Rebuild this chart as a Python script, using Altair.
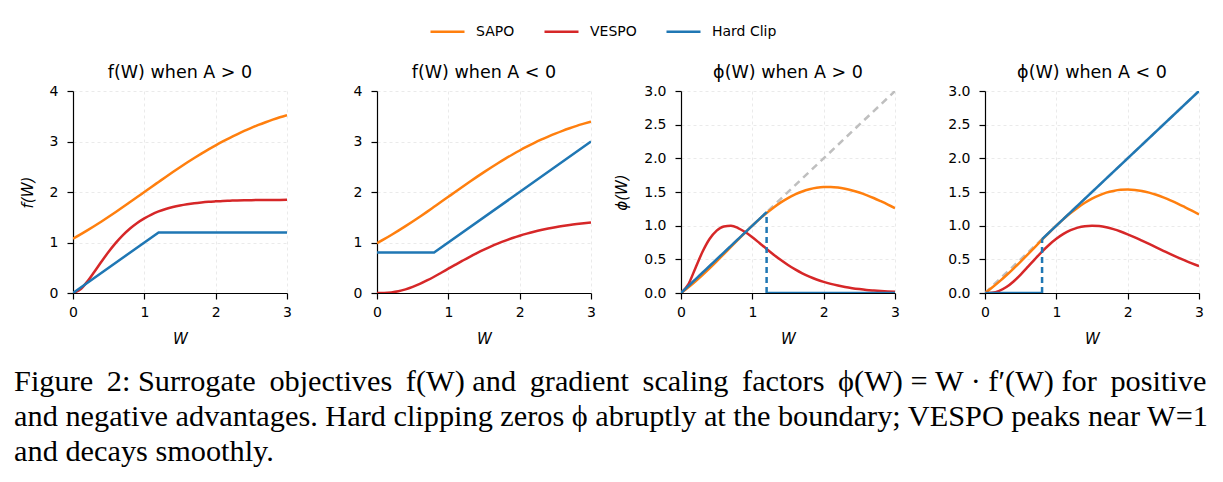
import altair as alt
import pandas as pd

# ---------------- data ----------------
W = [0.0, 0.1, 0.2, 0.3, 0.4, 0.5, 0.6, 0.7, 0.8, 0.9, 1.0,
     1.1, 1.2, 1.3, 1.4, 1.5, 1.6, 1.7, 1.8, 1.9, 2.0,
     2.1, 2.2, 2.3, 2.4, 2.5, 2.6, 2.7, 2.8, 2.9, 3.0]

sapo_f_pos = [1.076, 1.156, 1.240, 1.327, 1.417, 1.510, 1.605, 1.702, 1.801, 1.900, 2.000,
              2.100, 2.199, 2.298, 2.395, 2.490, 2.583, 2.673, 2.760, 2.844, 2.924,
              3.001, 3.074, 3.143, 3.209, 3.270, 3.328, 3.382, 3.433, 3.480, 3.523]
vespo_f_pos = [0.0, 0.068, 0.225, 0.420, 0.623, 0.817, 0.992, 1.146, 1.278, 1.388, 1.479,
               1.554, 1.615, 1.664, 1.703, 1.734, 1.759, 1.779, 1.794, 1.806, 1.815,
               1.823, 1.828, 1.833, 1.836, 1.839, 1.841, 1.842, 1.843, 1.844, 1.845]

sapo_f_neg = [0.988, 1.066, 1.149, 1.235, 1.324, 1.416, 1.511, 1.607, 1.706, 1.805, 1.905,
              2.005, 2.104, 2.202, 2.299, 2.394, 2.486, 2.575, 2.661, 2.743, 2.822,
              2.897, 2.968, 3.035, 3.097, 3.156, 3.211, 3.262, 3.310, 3.353, 3.394]
vespo_f_neg = [0.0, 0.002, 0.012, 0.034, 0.071, 0.120, 0.179, 0.248, 0.322, 0.401, 0.481,
               0.561, 0.640, 0.717, 0.789, 0.858, 0.923, 0.982, 1.037, 1.088, 1.134,
               1.175, 1.212, 1.246, 1.276, 1.302, 1.326, 1.347, 1.365, 1.381, 1.396]

sapo_phi_pos = [0.0, 0.082, 0.171, 0.266, 0.366, 0.470, 0.577, 0.685, 0.792, 0.898, 1.000,
                1.097, 1.188, 1.271, 1.346, 1.410, 1.464, 1.508, 1.540, 1.562, 1.573,
                1.574, 1.566, 1.548, 1.523, 1.492, 1.454, 1.411, 1.363, 1.313, 1.260]
vespo_phi_pos = [0.0, 0.123, 0.365, 0.608, 0.801, 0.927, 0.989, 0.998, 0.965, 0.905, 0.828,
                 0.742, 0.654, 0.569, 0.489, 0.416, 0.350, 0.293, 0.243, 0.201, 0.165,
                 0.135, 0.110, 0.089, 0.072, 0.058, 0.046, 0.037, 0.029, 0.023, 0.019]

sapo_phi_neg = [0.0, 0.081, 0.169, 0.263, 0.363, 0.467, 0.574, 0.683, 0.791, 0.898, 1.000,
                1.097, 1.187, 1.268, 1.340, 1.401, 1.451, 1.490, 1.516, 1.532, 1.536,
                1.530, 1.515, 1.491, 1.459, 1.421, 1.377, 1.329, 1.277, 1.223, 1.166]
vespo_phi_neg = [0.0, 0.005, 0.032, 0.088, 0.171, 0.274, 0.387, 0.503, 0.615, 0.717, 0.805,
                 0.878, 0.933, 0.971, 0.993, 1.000, 0.994, 0.976, 0.948, 0.913, 0.872,
                 0.827, 0.778, 0.728, 0.677, 0.627, 0.577, 0.529, 0.483, 0.439, 0.398]

# hard clip breakpoints
clip_f_pos_w = [0.0, 1.2, 3.0]
clip_f_pos_v = [0.0, 1.2, 1.2]
clip_f_neg_w = [0.0, 0.8, 3.0]
clip_f_neg_v = [0.8, 0.8, 3.0]
clip_phi_pos_w = [0.0, 1.2, None, 1.2, 3.0]
clip_phi_pos_v = [0.0, 1.2, None, 0.0, 0.0]
clip_phi_neg_w = [0.0, 0.8, None, 0.8, 3.0]
clip_phi_neg_v = [0.0, 0.0, None, 0.8, 3.0]
drop_pos_w = [1.2, 1.2]
drop_pos_v = [0.0, 1.2]
drop_neg_w = [0.8, 0.8]
drop_neg_v = [0.0, 0.8]
identity_w = [0.0, 3.0]
identity_v = [0.0, 3.0]

series_names = ["SAPO", "VESPO", "Hard Clip"]
series_colors = ["#ff7f0e", "#d62728", "#1f77b4"]

panel_titles = ["f(W) when A > 0", "f(W) when A < 0", "ϕ(W) when A > 0", "ϕ(W) when A < 0"]
y_titles = ["f(W)", None, "ϕ(W)", None]
f_ticks = [0, 1, 2, 3, 4]
phi_ticks = [0.0, 0.5, 1.0, 1.5, 2.0, 2.5, 3.0]
x_ticks = [0, 1, 2, 3]

# line 1 carries a few thin spaces to imitate the justified caption
caption_lines = [
    "Figure \u20092: Surrogate \u2009objectives \u2009f(W) and \u2009gradient \u2009scaling \u2009factors \u2009ϕ(W) = W · f′(W) for \u2009positive",
    "and negative advantages. Hard clipping zeros ϕ abruptly at the boundary; VESPO peaks near W=1",
    "and decays smoothly.",
]

# ---------------- helpers ----------------
FONT = "DejaVu Sans"
PW, PH = 214, 202


def frame(ws, vs, name):
    rows = []
    seg = 0
    for i, (w, v) in enumerate(zip(ws, vs)):
        if w is None:
            seg += 1
            continue
        rows.append({"W": w, "v": v, "series": name, "seg": seg, "i": i})
    return pd.DataFrame(rows)


color_enc = alt.Color(
    "series:N",
    scale=alt.Scale(domain=series_names, range=series_colors),
    legend=alt.Legend(
        title=None, orient="none", direction="horizontal",
        legendX=356, legendY=-78,
        symbolType="stroke", symbolSize=1156, symbolStrokeWidth=2.5,
        labelFont=FONT, labelFontSize=14, labelColor="black",
        labelOffset=10, columnPadding=24,
    ),
)


def panel(idx, ydomain, yticks, yfmt, layers):
    xenc = alt.X("W:Q", scale=alt.Scale(domain=[0, 3], nice=False),
                 axis=alt.Axis(values=x_ticks, format="d", title="W",
                               titleFontStyle="italic", titlePadding=12))
    yenc = alt.Y("v:Q", scale=alt.Scale(domain=ydomain, nice=False),
                 axis=alt.Axis(values=yticks, format=yfmt, title=y_titles[idx],
                               titleFontStyle="italic", titlePadding=14))
    charts = []
    for df, kind in layers:
        base = alt.Chart(df)
        if kind == "series":
            m = base.mark_line(clip=True, strokeWidth=2.5, interpolate="monotone").encode(
                x=xenc, y=yenc, color=color_enc, detail="seg:N", order="i:Q")
        elif kind == "clip":
            m = base.mark_line(clip=True, strokeWidth=2.5).encode(
                x=xenc, y=yenc, color=color_enc, detail="seg:N", order="i:Q")
        elif kind == "drop":
            m = base.mark_line(clip=True, strokeWidth=2.5, strokeDash=[6, 4]).encode(
                x=xenc, y=yenc, color=alt.value("#1f77b4"), order="i:Q")
        else:  # identity
            m = base.mark_line(clip=True, strokeWidth=2.5, strokeDash=[7, 5]).encode(
                x=xenc, y=yenc, color=alt.value("#bfbfbf"), order="i:Q")
        charts.append(m)
    return alt.layer(*charts).properties(
        width=PW, height=PH,
        title=alt.TitleParams(panel_titles[idx], font=FONT, fontSize=17.5,
                              fontWeight="normal", color="black", offset=3),
    )


p1 = panel(0, [0, 4], f_ticks, "d", [
    (frame(W, sapo_f_pos, "SAPO"), "series"),
    (frame(W, vespo_f_pos, "VESPO"), "series"),
    (frame(clip_f_pos_w, clip_f_pos_v, "Hard Clip"), "clip"),
])
p2 = panel(1, [0, 4], f_ticks, "d", [
    (frame(W, sapo_f_neg, "SAPO"), "series"),
    (frame(W, vespo_f_neg, "VESPO"), "series"),
    (frame(clip_f_neg_w, clip_f_neg_v, "Hard Clip"), "clip"),
])
p3 = panel(2, [0, 3], phi_ticks, ".1f", [
    (frame(identity_w, identity_v, "ref"), "identity"),
    (frame(W, sapo_phi_pos, "SAPO"), "series"),
    (frame(W, vespo_phi_pos, "VESPO"), "series"),
    (frame(clip_phi_pos_w, clip_phi_pos_v, "Hard Clip"), "clip"),
    (frame(drop_pos_w, drop_pos_v, "Hard Clip"), "drop"),
])
p4 = panel(3, [0, 3], phi_ticks, ".1f", [
    (frame(identity_w, identity_v, "ref"), "identity"),
    (frame(W, sapo_phi_neg, "SAPO"), "series"),
    (frame(W, vespo_phi_neg, "VESPO"), "series"),
    (frame(clip_phi_neg_w, clip_phi_neg_v, "Hard Clip"), "clip"),
    (frame(drop_neg_w, drop_neg_v, "Hard Clip"), "drop"),
])

chart = alt.hconcat(p1, p2, p3, p4, spacing=90, bounds="flush").properties(
    title=alt.TitleParams(
        caption_lines, orient="bottom", anchor="start", dx=-6, offset=21,
        font="Liberation Serif", fontSize=30.3, fontWeight="normal",
        color="black", lineHeight=35,
    ),
    padding={"left": 14, "top": 13, "right": 2, "bottom": 2},
).configure_view(stroke=None).configure_axis(
    domainColor="black", domainWidth=1.2, tickColor="black", tickWidth=1.2,
    tickSize=6, labelFont=FONT, labelFontSize=14, labelColor="black",
    labelPadding=9, titleFont=FONT, titleFontSize=15, titleFontWeight="normal",
    titleColor="black", gridColor="#e4e4e4", gridDash=[3, 3],
    gridWidth=0.8,
).configure_axisX(labelFlush=False, labelPadding=6).configure_axisY(labelFlush=False)

chart.save("out.html", embed_options={"renderer": "svg", "actions": False})
